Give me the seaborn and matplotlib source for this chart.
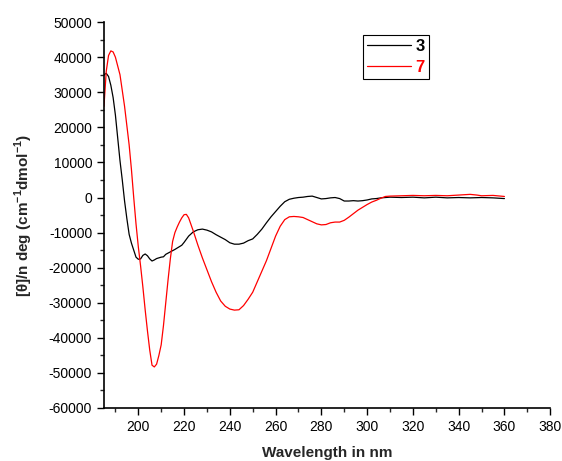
import numpy as np
import pandas as pd
import matplotlib
matplotlib.use("Agg")
import matplotlib.pyplot as plt
from matplotlib.ticker import MultipleLocator
import seaborn as sns

# CD spectra (wavelength nm, ellipticity)
wl_3 = [185, 186, 187, 188, 189, 190, 191, 192, 193, 194, 195, 196, 197, 198, 199,
        200, 201, 202, 203, 204, 205, 206, 207, 208, 209, 210, 211, 212, 214, 216,
        218, 219, 220, 222, 224, 226, 228, 230, 232, 234, 236, 238, 240, 242, 244,
        246, 248, 250, 252, 254, 256, 258, 260, 262, 264, 266, 268, 270, 272, 274,
        276, 278, 280, 282, 284, 286, 288, 290, 292, 294, 296, 298, 300, 302, 304,
        306, 308, 310, 315, 320, 325, 330, 335, 340, 345, 350, 355, 360]
th_3 = [35000, 35400, 34500, 32000, 28500, 23500, 17000, 10500, 5000, -1000, -6000,
        -10500, -13000, -15000, -17000, -17600, -17500, -16500, -16100, -16600,
        -17500, -18100, -17800, -17400, -17200, -17000, -16900, -16200, -15500,
        -14800, -14000, -13600, -12800, -11000, -9800, -9200, -9000, -9300, -9800,
        -10600, -11300, -12000, -12900, -13300, -13300, -13000, -12300, -11800,
        -10500, -9000, -7200, -5500, -4000, -2500, -1200, -500, -200, 0, 100, 300,
        400, 0, -400, -300, -100, 0, -300, -1000, -1000, -900, -1000, -900, -700,
        -400, -300, -100, 0, 100, 0, 100, -100, 100, -100, 0, -100, 0, -100, -300]

wl_7 = [185, 186, 187, 188, 189, 190, 191, 192, 193, 194, 195, 196, 197, 198, 199,
        200, 201, 202, 203, 204, 205, 206, 207, 208, 209, 210, 211, 212, 213, 214,
        215, 216, 217, 218, 219, 220, 221, 222, 224, 226, 228, 230, 232, 234, 236,
        238, 240, 242, 244, 246, 248, 250, 252, 254, 256, 258, 260, 262, 264, 266,
        268, 270, 272, 274, 276, 278, 280, 282, 284, 286, 288, 290, 292, 294, 296,
        298, 300, 302, 304, 306, 308, 310, 315, 320, 325, 330, 335, 340, 345, 348,
        350, 355, 360]
th_7 = [26000, 36000, 40500, 41800, 41500, 40000, 37500, 35000, 30500, 26000, 20500,
        15000, 8000, 0, -7500, -14000, -19500, -25500, -32000, -38000, -43500,
        -47800, -48300, -47500, -45000, -42000, -36500, -30000, -23500, -17500,
        -12500, -10000, -8400, -7000, -5800, -4900, -4800, -5800, -9500, -13500,
        -17200, -20600, -24000, -27000, -29500, -31000, -31800, -32100, -32000,
        -30800, -29000, -27000, -24000, -21000, -18000, -14500, -11000, -8200,
        -6300, -5500, -5400, -5500, -5700, -6300, -6900, -7500, -7800, -7700,
        -7200, -7000, -7000, -6500, -5600, -4600, -3600, -2800, -2000, -1300, -800,
        -200, 300, 400, 500, 600, 500, 600, 500, 700, 900, 700, 500, 600, 300]

df = pd.concat([
    pd.DataFrame({"wl": wl_3, "theta": th_3, "sample": "3"}),
    pd.DataFrame({"wl": wl_7, "theta": th_7, "sample": "7"}),
])

sns.set_style("ticks")
plt.rcParams["font.family"] = ["Liberation Sans", "DejaVu Sans"]
plt.rcParams["mathtext.fontset"] = "custom"
plt.rcParams["mathtext.rm"] = "Liberation Sans"
plt.rcParams["mathtext.bf"] = "Liberation Sans:bold"
plt.rcParams["axes.unicode_minus"] = False

fig = plt.figure(figsize=(5.62, 4.61), dpi=100)
ax = fig.add_axes([0.185, 0.115, 0.794, 0.837])

sns.lineplot(data=df, x="wl", y="theta", hue="sample",
             palette={"3": "black", "7": "red"}, linewidth=0.9,
             sort=False, estimator=None, ax=ax, legend=False)

ax.set_xlim(185, 380)
ax.set_ylim(-60000, 50000)
ax.xaxis.set_major_locator(MultipleLocator(20))
ax.xaxis.set_minor_locator(MultipleLocator(10))
ax.yaxis.set_major_locator(MultipleLocator(10000))
ax.yaxis.set_minor_locator(MultipleLocator(5000))
ax.set_xticks(np.arange(200, 381, 20))
ax.tick_params(which="major", direction="out", length=5, width=1, labelsize=10, colors="black")
ax.tick_params(which="minor", direction="out", length=3, width=1)
for s in ["top", "right"]:
    ax.spines[s].set_visible(False)
for s in ["left", "bottom"]:
    ax.spines[s].set_linewidth(1.2)
    ax.spines[s].set_color("black")

ax.set_xlabel("Wavelength in nm", fontsize=11, fontweight="bold", labelpad=9)
ax.set_ylabel(r"[θ]/n deg (cm$^{\mathbf{-1}}$dmol$^{\mathbf{-1}}$)",
              fontsize=11, fontweight="bold", labelpad=10)

h3, = ax.plot([], [], color="black", linewidth=0.9)
h7, = ax.plot([], [], color="red", linewidth=0.9)
leg = ax.legend([h3, h7], ["3", "7"], loc="upper left",
                bbox_to_anchor=(363 / 562, 1 - 35 / 461), bbox_transform=fig.transFigure,
                frameon=True, fancybox=False, framealpha=1, edgecolor="black",
                handlelength=2.6, handletextpad=0.3, borderpad=0.25,
                labelspacing=0.35, borderaxespad=0,
                prop={"weight": "bold", "size": 12})
leg.get_frame().set_linewidth(0.8)
for t, c in zip(leg.get_texts(), ["black", "red"]):
    t.set_color(c)

fig.savefig("out.png", dpi=100)
